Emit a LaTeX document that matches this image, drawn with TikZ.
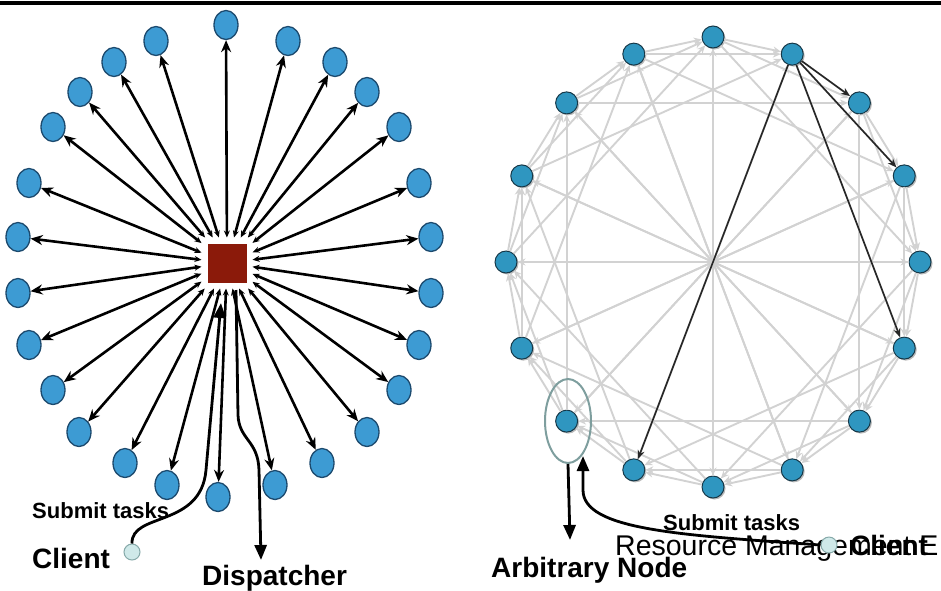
\documentclass[tikz,border=0pt]{standalone}
\usepackage{fontspec}
\setmainfont{Liberation Sans}
\usetikzlibrary{arrows.meta,shapes.geometric,shadows}
\definecolor{ballblue}{HTML}{3D9BD3}
\definecolor{balledge}{HTML}{1C4A6E}
\definecolor{dispred}{HTML}{8B1A0A}
\definecolor{peerblue}{HTML}{2F96C0}
\definecolor{peeredge}{HTML}{163848}
\definecolor{fingergray}{HTML}{D2D2D2}
\definecolor{clientfill}{HTML}{CFE9E9}
\definecolor{clientedge}{HTML}{86A9A9}
\definecolor{ringteal}{HTML}{7E9E9E}

\begin{document}
\begin{tikzpicture}[
		x=1pt, y=-1pt,
		every node/.style={inner sep=0pt},
		ball/.style={ellipse, draw=balledge, line width=1.3pt, fill=ballblue, minimum width=24pt, minimum height=29pt},
		peer/.style={circle, draw=peeredge, line width=1pt, fill=peerblue, minimum size=22pt,
			drop shadow={shadow xshift=1.5pt, shadow yshift=-1.5pt, opacity=0.55}},
		fan/.style={line width=2.6pt, {Stealth[length=7pt,width=6pt]}-{Stealth[length=12pt,width=10pt]}},
		finger/.style={line width=1.9pt, draw=fingergray, -{Stealth[length=8pt,width=7pt]}},
		hop/.style={line width=1.6pt, draw=black!85, -{Stealth[length=9pt,width=7pt]}},
		bigarrow/.style={line width=2.8pt, -{Triangle[length=15pt,width=12pt]}},
		client/.style={circle, draw=clientedge, line width=1pt, fill=clientfill, minimum size=16pt},
		bold/.style={font=\bfseries\fontsize{28}{30}\selectfont},
		small bold/.style={font=\bfseries\fontsize{22}{24}\selectfont}
	]
  \useasboundingbox (0,0) rectangle (941,590);
  \draw[line width=4pt] (0,3) -- (941,3);

  \node (sq) [rectangle, fill=dispred, minimum size=39pt, outer sep=6pt] at (227,263) {};
  \foreach \i/\x/\y in {0/226/25, 1/288/41, 2/335/62, 3/367/92, 4/399/127, 5/419/183, 6/431/237,
      7/431/293, 8/419/345, 9/399/390, 10/367/432, 11/322/463, 12/275/485, 13/218/497,
      14/167/485, 15/125/463, 16/79/432, 17/53/390, 18/29/345, 19/18/293, 20/18/237,
      21/29/183, 22/53/127, 23/80/92, 24/114/62, 25/156/41}
    \node[ball] (l_\i) at (\x,\y) {};
  \foreach \i in {0,...,25}
    \draw[fan] (sq) -- (l_\i);

  \node (sub_l) [small bold, anchor=base west] at (32,518) {Submit tasks};
  \node (cli_l) [bold, anchor=base west] at (32,568) {Client};
  \node (c_l) [client] at (132,552) {};
  \node (disp_l) [bold, anchor=base west] at (202,585) {Dispatcher};
  \coordinate (s_tip) at (221,303);
  \coordinate (d_from) at (236,290);
  \coordinate (d_tip) at (261,560);
  \draw[bigarrow] (c_l.north) .. controls (131,512) and (201,528) .. (206,470) -- (s_tip);
  \draw[bigarrow] (d_from) -- (238,415) .. controls (239,440) and (258,440) .. (259,470) -- (d_tip);

  \foreach \k in {0,...,15}
    \node[peer] (r_\k) at ({713+207*cos(90-22.5*\k)},{262-225*sin(90-22.5*\k)}) {};
  \foreach \k in {0,...,15}
    \foreach \d in {1,2,4,8} {
      \pgfmathtruncatemacro{\t}{mod(\k+\d,16)}
      \draw[finger] (r_\k) -- (r_\t);
    }
  \foreach \t in {2,3,5,9}
    \draw[hop] (r_1) -- (r_\t);

  \node (arb) [ellipse, draw=ringteal, line width=2pt, minimum width=46pt, minimum height=84pt] at (568,421) {};
  \node (sub_r) [small bold, anchor=base west] at (663,530) {Submit tasks};
  \node (rme) [anchor=base west, font=\fontsize{28.5}{30}\selectfont] at (615,555) {Resource Management E};
  \node (c_r) [client] at (829,545) {};
  \node (cli_r) [bold, anchor=base west] at (850,555) {Client};
  \node (arb_l) [bold, anchor=base west] at (491,577) {Arbitrary Node};
  \coordinate (a_tip) at (570,540);
  \coordinate (r_tip) at (583,456);
  \draw[bigarrow] (arb.south) -- (a_tip);
  \draw[bigarrow] (c_r.west) .. controls (680,535) and (583,530) .. (583,490) -- (r_tip);
\end{tikzpicture}
\end{document}
